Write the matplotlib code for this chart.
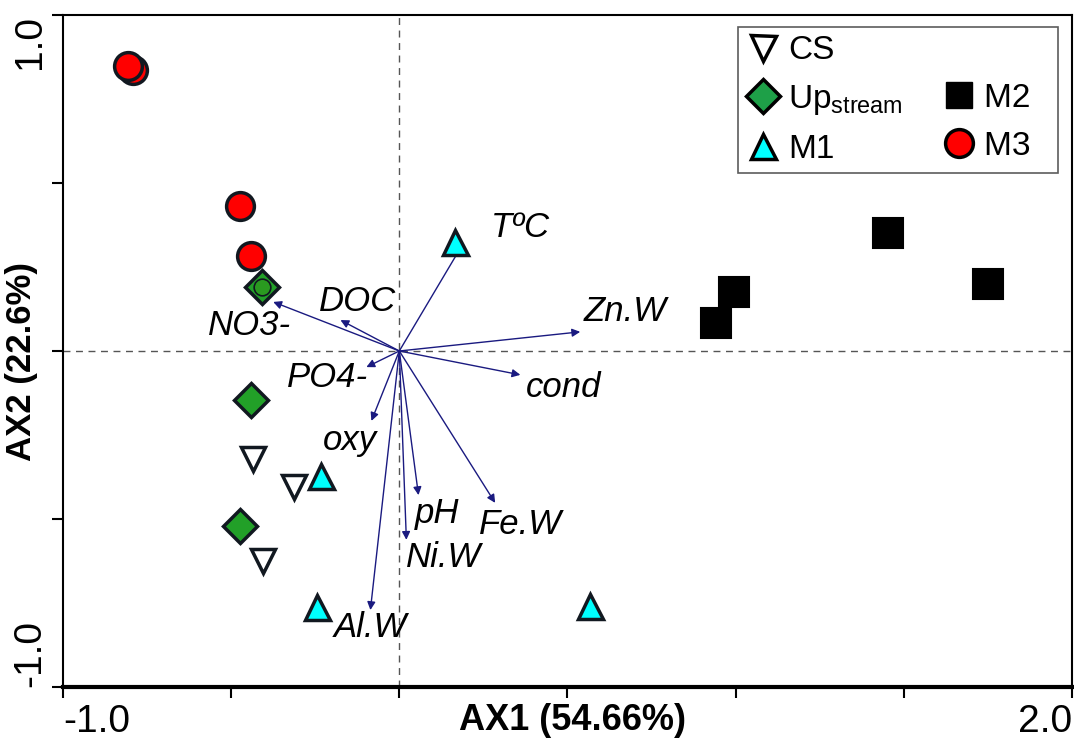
import matplotlib
matplotlib.use('Agg')
import matplotlib.pyplot as plt
from matplotlib.lines import Line2D

plt.rcParams['font.family'] = ['Liberation Sans', 'DejaVu Sans']
plt.rcParams['mathtext.fontset'] = 'custom'
plt.rcParams['mathtext.rm'] = 'Liberation Sans'

# site scores
cs_x = [-0.434, -0.312, -0.404]
cs_y = [-0.321, -0.405, -0.625]
up_x = [-0.407, -0.440, -0.473]
up_y = [0.190, -0.146, -0.521]
m1_x = [0.167, -0.232, -0.244, 0.568]
m1_y = [0.324, -0.372, -0.762, -0.759]
m2_x = [1.454, 1.751, 0.996, 0.943]
m2_y = [0.351, 0.199, 0.176, 0.083]
m3_x = [-0.806, -0.791, -0.473, -0.440]
m3_y = [0.848, 0.836, 0.432, 0.283]

# environmental vectors
env_names = ['TºC', 'Zn.W', 'cond', 'Fe.W', 'pH', 'Ni.W', 'Al.W', 'oxy', 'PO4-', 'DOC', 'NO3-']
env_x = [0.187, 0.538, 0.360, 0.285, 0.057, 0.021, -0.086, -0.083, -0.098, -0.175, -0.375]
env_y = [0.315, 0.057, -0.071, -0.452, -0.429, -0.562, -0.771, -0.208, -0.048, 0.092, 0.146]
lab_x = [0.360, 0.672, 0.488, 0.360, 0.113, 0.131, -0.086, -0.146, -0.214, -0.125, -0.446]
lab_y = [0.369, 0.119, -0.110, -0.515, -0.485, -0.616, -0.824, -0.265, -0.080, 0.146, 0.077]

fig = plt.figure(figsize=(10.74, 7.38), dpi=100)
ax = fig.add_axes([0.0587, 0.0691, 0.9393, 0.9106])
ax.set_xlim(-1.0, 2.0)
ax.set_ylim(-1.0, 1.0)

ax.axvline(0, color='#555555', ls=(0, (5, 4)), lw=1.0, zorder=1)
ax.axhline(0, color='#555555', ls=(0, (5, 4)), lw=1.0, zorder=1)

for ex, ey in zip(env_x, env_y):
    ax.annotate('', xy=(ex, ey), xytext=(0, 0),
                arrowprops=dict(arrowstyle='-|>', color='#1a1a80', lw=1.0,
                                mutation_scale=12, shrinkA=0, shrinkB=0),
                zorder=2)
for name, lx, ly in zip(env_names, lab_x, lab_y):
    ax.text(lx, ly, name, fontsize=25, style='italic', ha='center', va='center', zorder=3)

ec = '#111820'
ax.plot(cs_x, cs_y, 'v', ms=17, mfc='white', mec=ec, mew=2.5, ls='none', zorder=4)
ax.plot(up_x, up_y, 'D', ms=17, mfc='#22a028', mec=ec, mew=2.5, ls='none', zorder=4)
ax.plot(up_x[:1], up_y[:1], 'o', ms=12, mfc='#2a9a20', mec=ec, mew=1.2, ls='none', zorder=5)
ax.plot(m1_x, m1_y, '^', ms=18, mfc='#00ffff', mec=ec, mew=2.5, ls='none', zorder=4)
ax.plot(m2_x, m2_y, 's', ms=22, mfc='black', mec='black', mew=1.5, ls='none', zorder=4)
ax.plot(m3_x[::-1], m3_y[::-1], 'o', ms=20, mfc='#ff0000', mec=ec, mew=2.5, ls='none', zorder=4)

handles = [
    Line2D([], [], marker='v', ms=18, mfc='white', mec='black', mew=2.5, ls='none'),
    Line2D([], [], marker='D', ms=17, mfc='#1ea048', mec='black', mew=2.5, ls='none'),
    Line2D([], [], marker='^', ms=18, mfc='#00ffff', mec='black', mew=2.5, ls='none'),
    Line2D([], [], ls='none'),
    Line2D([], [], marker='s', ms=19, mfc='black', mec='black', ls='none'),
    Line2D([], [], marker='o', ms=20, mfc='#ff0000', mec='black', mew=2.5, ls='none'),
]
labels = ['CS', r'Up$_{\mathrm{stream}}$', 'M1', '', 'M2  ', 'M3  ']
leg = ax.legend(handles, labels, ncol=2, loc='upper right', bbox_to_anchor=(0.986, 0.982),
                fontsize=24, frameon=True, fancybox=False, edgecolor='#333333',
                handlelength=1.0, handletextpad=0.25, columnspacing=1.2,
                labelspacing=0.5, borderpad=0.25, borderaxespad=0.0)
leg.get_frame().set_linewidth(1.2)

ax.set_xticks([-1.0, -0.5, 0, 0.5, 1.0, 1.5, 2.0])
ax.set_xticklabels(['-1.0', '', '', '', '', '', '2.0'])
ax.set_yticks([-1.0, -0.5, 0, 0.5, 1.0])
ax.set_yticklabels(['-1.0', '', '', '', '1.0'], rotation=90, va='center')
ax.tick_params(axis='both', direction='out', length=8, width=1.5, labelsize=28)
ax.tick_params(axis='x', pad=4)
ax.tick_params(axis='y', pad=3)
xl = ax.get_xticklabels()
xl[0].set_ha('left')
xl[-1].set_ha('right')
yl = ax.get_yticklabels()
yl[0].set_va('bottom')
yl[-1].set_va('top')

for s in ['top', 'right', 'left']:
    ax.spines[s].set_linewidth(1.5)
ax.spines['bottom'].set_linewidth(3)

ax.set_xlabel('AX1 (54.66%)', fontsize=26, fontweight='bold', va='top')
ax.xaxis.set_label_coords(0.505, -0.024)
ax.set_ylabel('AX2 (22.6%)', fontsize=25, fontweight='bold', va='center')
ax.yaxis.set_label_coords(-0.041, 0.484)

fig.savefig('out.png', dpi=100)
